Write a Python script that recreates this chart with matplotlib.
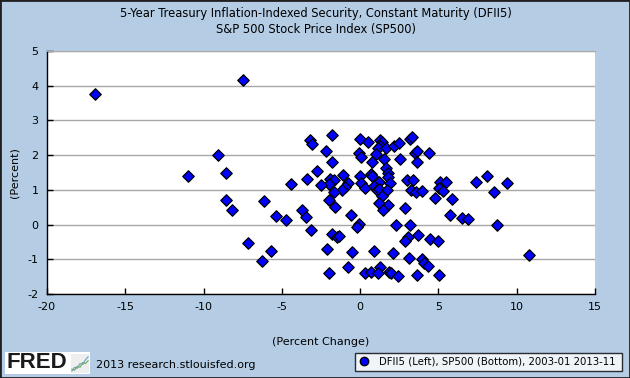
import matplotlib
matplotlib.use("Agg")
import matplotlib.pyplot as plt
from matplotlib.patches import Rectangle
from matplotlib.lines import Line2D

plt.rcParams["axes.unicode_minus"] = False

# S&P 500 monthly percent change (x) vs 5-year TIPS yield (y), 2003-01..2013-11
sp500_change = [
    -3.19, -3.06, -1.80, 0.00, 0.52, 1.26, 1.41, 1.28, 1.12, 1.67,
    2.18, 2.50, 3.18, 3.29, -2.16, -0.08, 0.07, 1.03, 3.48, 3.61,
    4.37, -1.80, 0.77, 1.50, 2.56, 3.63, -2.74, 1.67, 1.76, -1.08,
    -3.38, -4.42, -1.93, -1.65, -1.97, -2.48, 0.01, 0.67, 0.75, 1.79,
    1.20, 1.92, 0.07, -0.80, -0.95, -1.16, -1.65, 0.29, 0.86, 1.05,
    1.20, 1.73, 2.99, 3.39, 3.22, 3.58, 3.93, 5.11, 5.50, 7.41,
    5.05, 5.29, 4.78, 5.86, -1.97, 1.41, 1.22, 1.79, 1.48, -1.59,
    -3.70, -3.46, -4.72, 2.88, -0.59, 5.73, 6.50, 6.90, -0.08, -0.20,
    -3.12, 2.31, 3.20, -1.82, -1.48, -1.33, 3.03, 2.88, 3.69, 4.48,
    4.99, -2.10, -0.52, 0.90, 2.11, 3.14, 3.95, 4.09, 4.33, -0.76,
    1.26, -1.97, 0.31, 0.69, 1.16, 1.82, 1.99, 2.41, 3.63, 5.05,
    -16.92, -7.48, -9.06, -10.98, -8.55, -8.55, -8.17, -6.12, -5.36, -7.15,
    -5.70, -6.25, 8.12, 9.39, 8.56, 8.75, 10.78,
]
dfii5 = [
    2.44, 2.33, 2.58, 2.46, 2.37, 2.44, 2.39, 2.27, 2.22, 2.20,
    2.27, 2.35, 2.46, 2.53, 2.11, 2.07, 1.95, 2.03, 2.05, 2.13,
    2.05, 1.79, 1.80, 1.88, 1.88, 1.79, 1.54, 1.62, 1.50, 1.43,
    1.30, 1.16, 1.31, 1.28, 1.17, 1.14, 1.41, 1.46, 1.41, 1.36,
    1.24, 1.20, 1.20, 1.20, 1.08, 0.99, 0.94, 1.05, 1.11, 1.01,
    1.03, 1.01, 1.28, 1.28, 0.99, 0.94, 0.97, 1.22, 1.22, 1.22,
    1.04, 0.97, 0.76, 0.73, 0.71, 0.82, 0.62, 0.56, 0.42, 0.50,
    0.42, 0.21, 0.12, 0.47, 0.27, 0.27, 0.20, 0.16, 0.03, -0.08,
    -0.16, -0.02, -0.02, -0.27, -0.37, -0.33, -0.37, -0.48, -0.31, -0.42,
    -0.48, -0.71, -0.80, -0.77, -0.83, -0.97, -0.99, -1.12, -1.18, -1.22,
    -1.23, -1.40, -1.40, -1.38, -1.40, -1.38, -1.40, -1.49, -1.46, -1.46,
    3.75, 4.16, 1.99, 1.39, 1.48, 0.70, 0.41, 0.67, 0.24, -0.54,
    -0.77, -1.05, 1.40, 1.20, 0.94, -0.02, -0.89,
]

title_lines = ["5-Year Treasury Inflation-Indexed Security, Constant Maturity (DFII5)",
               "S&P 500 Stock Price Index (SP500)"]
legend_label = "DFII5 (Left), SP500 (Bottom), 2003-01 2013-11"
x_ticks = [-20, -15, -10, -5, 0, 5, 10, 15]
y_ticks = [-2, -1, 0, 1, 2, 3, 4, 5]

bg = "#B4CDE4"
fig = plt.figure(figsize=(6.3, 3.78), dpi=100, facecolor=bg)
ax = fig.add_axes([47 / 630, 1 - 294 / 378, 548 / 630, 243 / 378])
ax.set_facecolor("white")

ax.scatter(sp500_change, dfii5, marker="D", s=34, facecolor="#0000FF",
           edgecolor="black", linewidth=0.9, zorder=3)

ax.set_xlim(-20, 15)
ax.set_ylim(-2, 5)
ax.set_xticks(x_ticks)
ax.set_yticks(y_ticks)
ax.yaxis.grid(True, color="#A8A8A8", linewidth=1)
ax.set_axisbelow(True)
ax.tick_params(direction="in", length=4, width=1, labelsize=8, pad=6)
ax.spines["right"].set_visible(False)
ax.spines["top"].set_color("#A8A8A8")
for side in ["left", "bottom"]:
    ax.spines[side].set_color("black")
    ax.spines[side].set_linewidth(1)

ax.set_xlabel("(Percent Change)", fontsize=8, labelpad=18)
ax.set_ylabel("(Percent)", fontsize=8, labelpad=6)

fig.text(0.502, 1 - 14 / 378, title_lines[0], ha="center", va="center", fontsize=8.3)
fig.text(0.502, 1 - 30 / 378, title_lines[1], ha="center", va="center", fontsize=8.3)

# FRED credit at the bottom
fig.patches.append(Rectangle((5 / 630, 1 - 374 / 378), 85 / 630, 22 / 378,
                             transform=fig.transFigure, facecolor="white",
                             edgecolor="none", zorder=0.5))
fig.text(7 / 630, 1 - 363 / 378, "FRED", fontsize=16, fontweight="bold",
         family="Liberation Sans", ha="left", va="center", color="#1A1A1A")
icon = fig.add_axes([71 / 630, 1 - 373 / 378, 18 / 630, 19 / 378])
icon.set_zorder(2)
icon.set_facecolor("#EEEEEE")
icon_a = [0.1, 0.3, 0.25, 0.5, 0.45, 0.7, 0.85]
icon_b = [0.2, 0.15, 0.35, 0.3, 0.55, 0.5, 0.65]
icon.plot(icon_a, color="#6A9FCF", linewidth=0.8)
icon.plot(icon_b, color="#6AAA5A", linewidth=0.8)
icon.set_xticks([])
icon.set_yticks([])
icon.set_ylim(0, 1)
for s in icon.spines.values():
    s.set_visible(False)
fig.text(96 / 630, 1 - 365 / 378, "2013 research.stlouisfed.org", fontsize=8,
         ha="left", va="center")

handle = Line2D([], [], marker="o", color="none", markerfacecolor="#0000FF",
                markeredgecolor="black", markersize=6)
leg = fig.legend([handle], [legend_label], loc="lower left",
                 bbox_to_anchor=(355 / 630, 1 - 371 / 378, 267 / 630, 23 / 378),
                 mode="expand", fontsize=7.3, frameon=True, fancybox=False,
                 edgecolor="black", handlelength=1, handletextpad=1.0,
                 borderpad=0.4, borderaxespad=0)
leg.get_frame().set_linewidth(1)

fig.patches.append(Rectangle((0, 0), 1, 1, transform=fig.transFigure, fill=False,
                             edgecolor="#202020", linewidth=2))

fig.savefig("out.png", dpi=100, facecolor=bg)
